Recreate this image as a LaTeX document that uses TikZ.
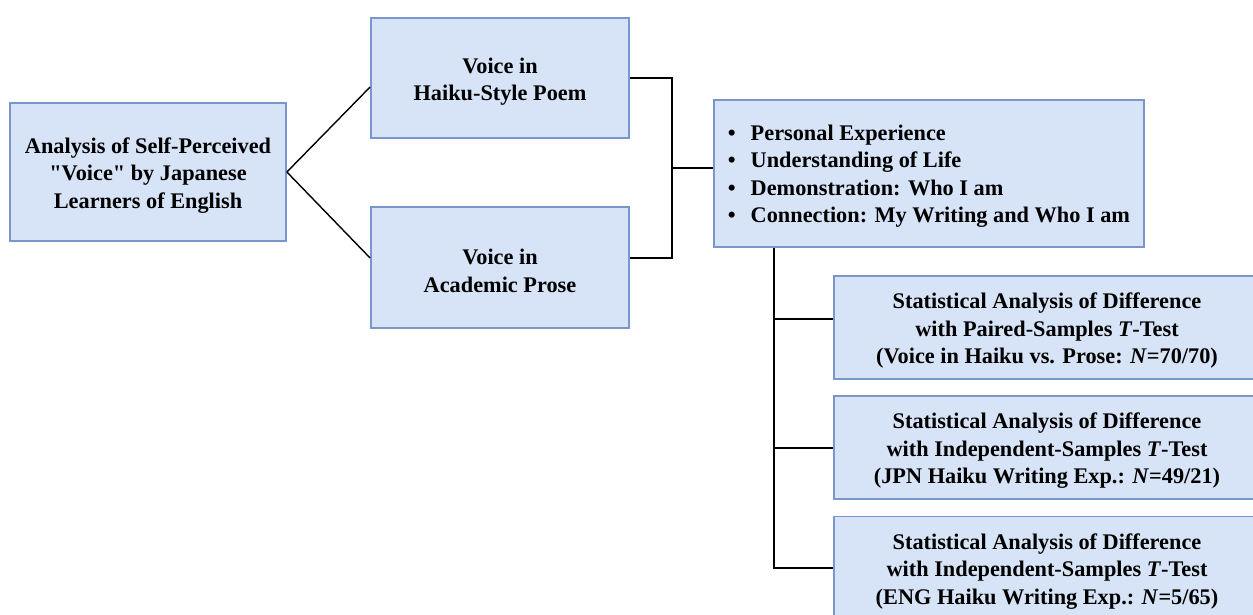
\documentclass[tikz,border=0pt]{standalone}
\usepackage{fontspec}
\setmainfont{Liberation Serif}[Ligatures=TeXOff]
\begin{document}
\begin{tikzpicture}[x=1pt,y=-1pt,
  box/.style={draw=boxline, fill=boxfill, line width=1.8pt, rectangle, inner sep=0pt},
  txt/.style={font=\bfseries\fontsize{22.3}{27.5}\selectfont, align=center, inner sep=0pt,
    anchor=center, yshift=-3.5pt},
  conn/.style={draw=black, line width=1.4pt}]
\definecolor{boxfill}{HTML}{D7E4F7}
\definecolor{boxline}{HTML}{7A97CB}
\useasboundingbox (0,0) rectangle (1253,614);
\clip (0,0) rectangle (1253,614);
\node[box, minimum width=276pt, minimum height=138pt,
  label={[txt]center:{Analysis of Self-Perceived\\"Voice" by Japanese\\Learners of English}}]
  (root) at (148,172) {};
\node[box, minimum width=258pt, minimum height=120pt,
  label={[txt]center:{Voice in\\Haiku-Style Poem}}] (haiku) at (500,78) {};
\node[box, minimum width=258pt, minimum height=121pt,
  label={[txt]center:{Voice in\\Academic Prose}}] (prose) at (500,267.5) {};
\node[box, minimum width=430pt, minimum height=147pt,
  label={[txt, yshift=1pt]center:{%
   \begin{tabular}{@{}l@{\hspace{15pt}}l@{}}
   \textbullet & Personal Experience\\
   \textbullet & Understanding of Life\\
   \textbullet & Demonstration: Who I am\\
   \textbullet & Connection: My Writing and Who I am
   \end{tabular}}}] (themes) at (929,173.5) {};
\node[box, minimum width=426pt, minimum height=103pt,
  label={[txt]center:{Statistical Analysis of Difference\\with Paired-Samples \textit{T}-Test\\(Voice in Haiku vs. Prose: \textit{N}=70/70)}}]
  (s1) at (1047,327.5) {};
\node[box, minimum width=426pt, minimum height=103pt,
  label={[txt]center:{Statistical Analysis of Difference\\with Independent-Samples \textit{T}-Test\\(JPN Haiku Writing Exp.: \textit{N}=49/21)}}]
  (s2) at (1047,447.5) {};
\node[box, minimum width=426pt, minimum height=103pt,
  label={[txt]center:{Statistical Analysis of Difference\\with Independent-Samples \textit{T}-Test\\(ENG Haiku Writing Exp.: \textit{N}=5/65)}}]
  (s3) at (1047,568) {};
\coordinate (junc) at (672,168);
\coordinate (trunk) at (774,247);
\draw[conn] (root.east) -- ([yshift=-9pt]haiku.west);
\draw[conn] (root.east) -- ([yshift=9.5pt]prose.west);
\draw[conn] (haiku.east) -| (junc) |- ([yshift=9.5pt]prose.east);
\draw[conn] (junc) -- (themes.west |- junc);
\draw[conn] (themes.south -| trunk) -- (trunk |- s3.west) -- (s3.west);
\draw[conn] ([yshift=8.5pt]s1.west) -- ([yshift=8.5pt]s1.west -| trunk);
\draw[conn] ([yshift=-0.5pt]s2.west) -- ([yshift=-0.5pt]s2.west -| trunk);
\end{tikzpicture}
\end{document}
